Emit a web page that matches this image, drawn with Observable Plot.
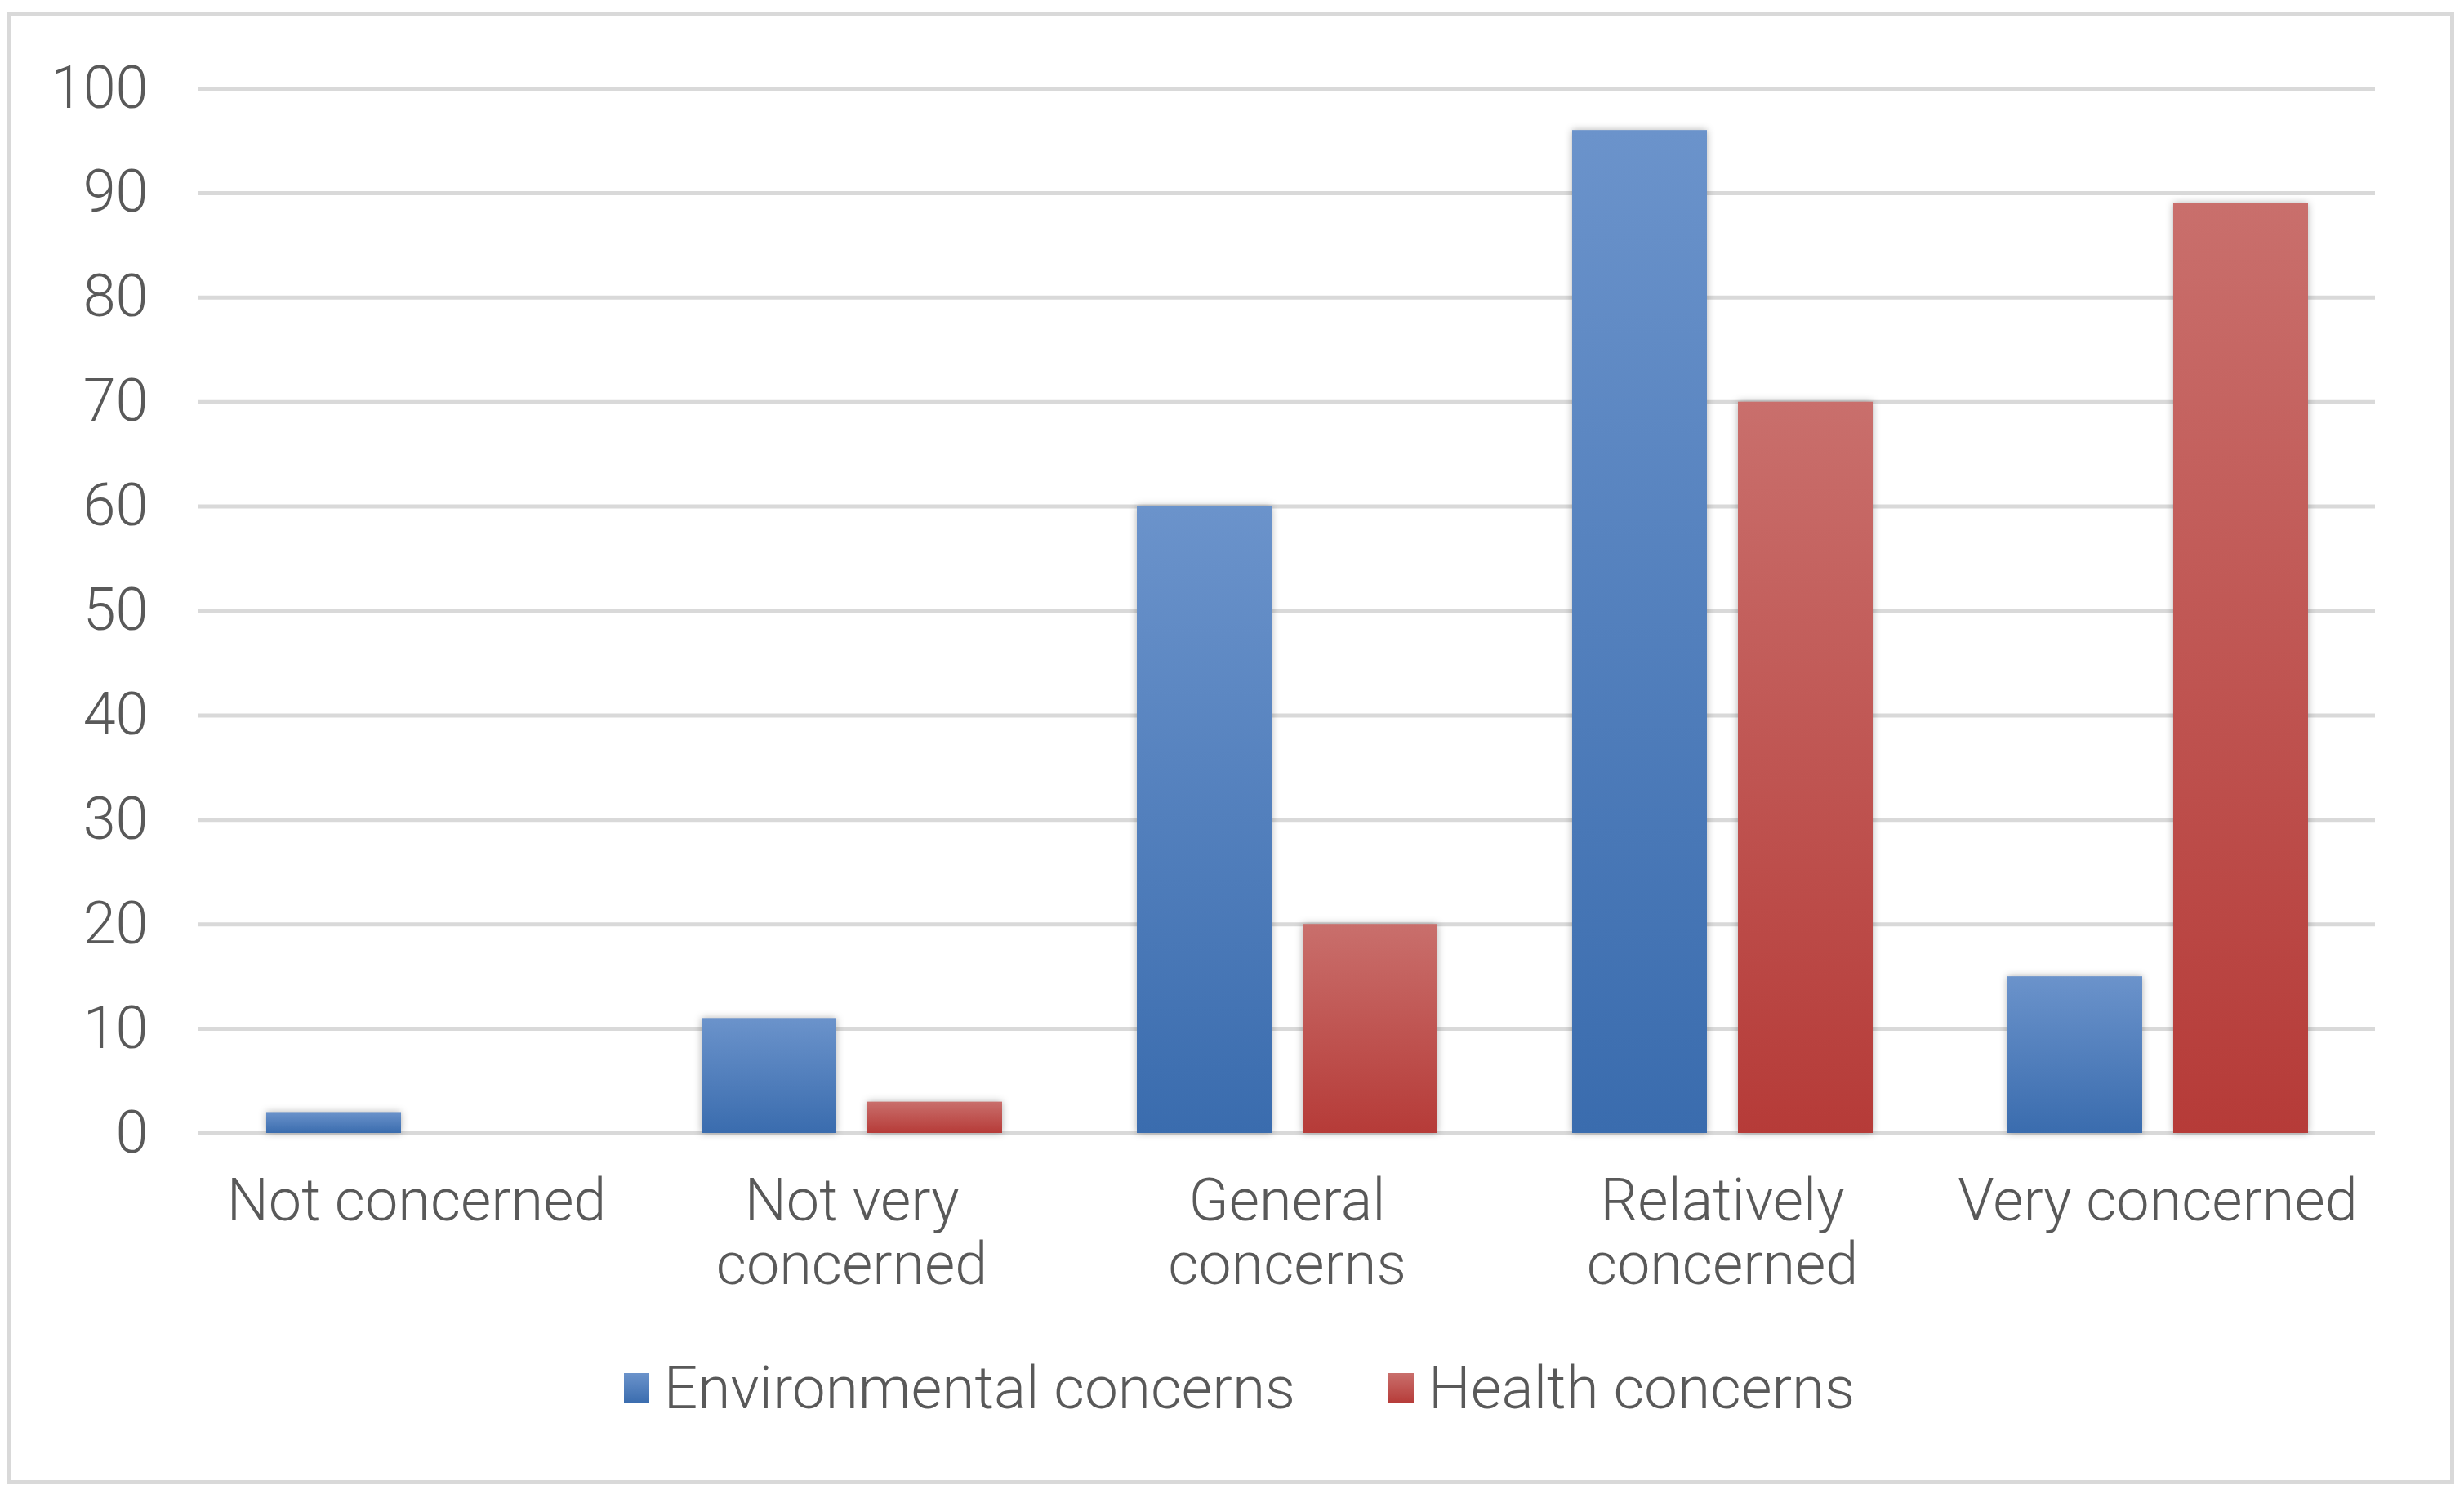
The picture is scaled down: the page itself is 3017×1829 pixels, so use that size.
<!DOCTYPE html>
<html>
<head>
<meta charset="utf-8">
<script src="https://cdn.jsdelivr.net/npm/d3@7"></script>
<script src="https://cdn.jsdelivr.net/npm/@observablehq/plot@0.6"></script>
<style>
html, body { margin: 0; padding: 0; background: #fff; }
body { width: 3017px; height: 1829px; position: relative; overflow: hidden; font-family: Roboto, "Liberation Sans", sans-serif; }
#frame { position: absolute; left: 8px; top: 15px; width: 2997px; height: 1802px; border: 5px solid #d9d9d9; box-sizing: border-box; }
#chart { position: absolute; left: 0; top: 0; }
#legend { position: absolute; left: 22px; right: 0; top: 1629px; height: 100px; display: flex; justify-content: center; align-items: center; font-size: 73px; font-weight: 300; color: #595959; }
.item { display: flex; align-items: center; }
.item + .item { margin-left: 114px; }
.sw { width: 31px; height: 37px; margin-right: 18px; }
</style>
</head>
<body>
<svg width="0" height="0" style="position:absolute">
  <defs>
    <linearGradient id="gradEnv" x1="0" y1="0" x2="0" y2="1">
      <stop offset="0" stop-color="#6B93CB"/>
      <stop offset="1" stop-color="#3A6CAE"/>
    </linearGradient>
    <linearGradient id="gradHealth" x1="0" y1="0" x2="0" y2="1">
      <stop offset="0" stop-color="#C96F6C"/>
      <stop offset="1" stop-color="#B63B38"/>
    </linearGradient>
  </defs>
</svg>
<div id="frame">
  <div id="chart"></div>
  <div id="legend"></div>
</div>
<script>
const categories = ["Not concerned", "Not very concerned", "General concerns", "Relatively concerned", "Very concerned"];
const categoryLabels = ["Not concerned", "Not very\nconcerned", "General\nconcerns", "Relatively\nconcerned", "Very concerned"];
const seriesNames = ["Environmental concerns", "Health concerns"];
const environmental = [2, 11, 60, 96, 15];
const health = [0, 3, 20, 70, 89];
const yTicks = [0, 10, 20, 30, 40, 50, 60, 70, 80, 90, 100];

const seriesFill = {"Environmental concerns": "url(#gradEnv)", "Health concerns": "url(#gradHealth)"};
const swatchCss = {
  "Environmental concerns": "linear-gradient(#6B93CB, #3A6CAE)",
  "Health concerns": "linear-gradient(#C96F6C, #B63B38)"
};

const envData = categories.map((c, i) => ({category: c, series: seriesNames[0], value: environmental[i]}));
const healthData = categories.map((c, i) => ({category: c, series: seriesNames[1], value: health[i]}));

const plot = Plot.plot({
  width: 2987,
  height: 1600,
  marginLeft: 228,
  marginRight: 91,
  marginTop: 88,
  marginBottom: 233,
  style: {fontFamily: "Roboto, 'Liberation Sans', sans-serif", fontSize: "72px", fontWeight: 300, color: "#595959", background: "transparent"},
  fx: {domain: categories, padding: 0, label: null},
  x: {domain: seriesNames, axis: null, paddingInner: 0.189, paddingOuter: 0.401},
  y: {domain: [0, 100], label: null},
  marks: [
    Plot.gridY(yTicks, {stroke: "#d9d9d9", strokeOpacity: 1, strokeWidth: 5}),
    Plot.axisY(yTicks, {tickSize: 0, tickPadding: 62, label: null}),
    Plot.axisFx({anchor: "bottom", tickSize: 0, tickPadding: 52, lineHeight: 1.075, label: null,
                 tickFormat: d => categoryLabels[categories.indexOf(d)]}),
    Plot.barY(envData, {fx: "category", x: "series", y: "value", fill: seriesFill[seriesNames[0]]}),
    Plot.barY(healthData, {fx: "category", x: "series", y: "value", fill: seriesFill[seriesNames[1]]})
  ]
});
d3.select(plot).selectAll("g[aria-label='bar']").style("filter", "drop-shadow(0px 0px 5px rgba(0,0,0,0.3))");
document.getElementById("chart").appendChild(plot);

const legend = d3.select("#legend");
seriesNames.forEach(s => {
  const it = legend.append("div").attr("class", "item");
  it.append("div").attr("class", "sw").style("background", swatchCss[s]);
  it.append("span").text(s);
});
</script>
</body>
</html>
